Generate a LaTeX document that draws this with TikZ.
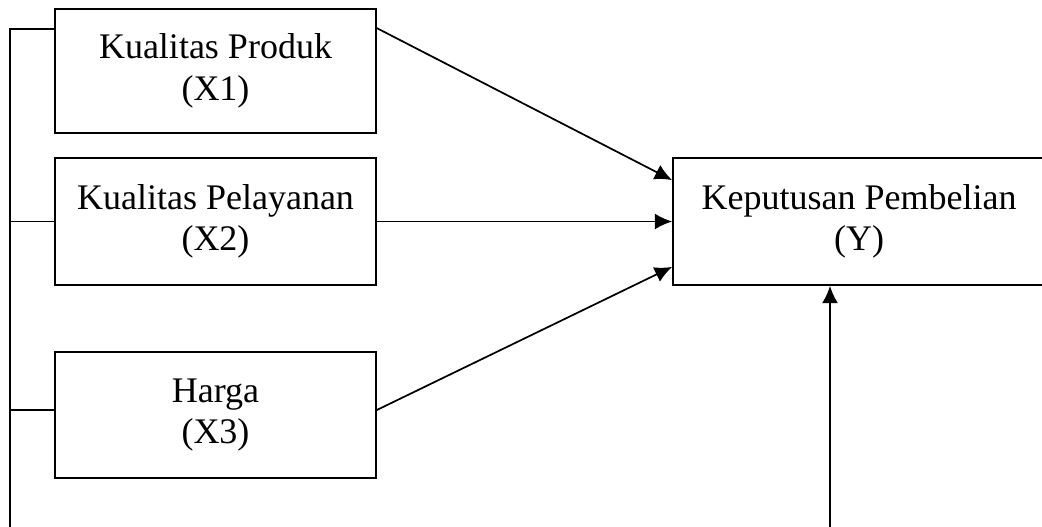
\documentclass[tikz,border=0pt]{standalone}
\usepackage{fontspec}
\setmainfont{Liberation Serif}
\usetikzlibrary{arrows.meta,calc}

\tikzset{
  varbox/.style={draw, thick, line width=1.3pt, align=center, inner sep=0pt,
    font=\fontsize{27}{31}\selectfont},
  link/.style={line width=1.3pt, -{Latex[length=13pt,width=12pt]}},
}

\begin{document}
\begin{tikzpicture}[x=0.75pt, y=-0.75pt]
        \useasboundingbox (0,0) rectangle (1042,527);
        \clip (0,0) rectangle (1042,527);

        % Independent variables
        \node[varbox, minimum width=240.75pt, minimum height=93pt] (kp) at (215.5,71) {Kualitas Produk\\(X1)};
        \node[varbox, minimum width=240.75pt, minimum height=95.25pt] (kpl) at (215.5,221.5) {Kualitas Pelayanan\\(X2)};
        \node[varbox, minimum width=240.75pt, minimum height=94.5pt] (hrg) at (215.5,415) {Harga\\(X3)};

        % Dependent variable
        \node[varbox, minimum width=279pt, minimum height=95.25pt] (kpb) at (859,221.5) {Keputusan Pembelian\\(Y)};

        % Arrows into Y
        \draw[link] ($(kp.north east)+(0,20)$) -- ($(kpb.north west)+(0,23)$);
        \draw[link] (kpl.east) -- (kpb.west);
        \draw[link] ($(hrg.east)+(0,-5)$) -- ($(kpb.south west)+(0,-19)$);

        % Left bracket joining X1, X2, X3
        \coordinate (tl) at (10,29);
        \coordinate (bl) at (10,527);
        \draw[line width=1.3pt] (bl) -- (tl) -- (tl -| kp.west);
        \draw[line width=1.3pt] (kpl.west) -- (kpl.west -| tl);
        \draw[line width=1.3pt] ($(hrg.west)+(0,-5)$) -- ($(hrg.west -| tl)+(0,-5)$);

        % Joint line up to Y
        \coordinate (bot) at (830,527);
        \draw[link] (bot) -- (bot |- kpb.south);
    \end{tikzpicture}
\end{document}
